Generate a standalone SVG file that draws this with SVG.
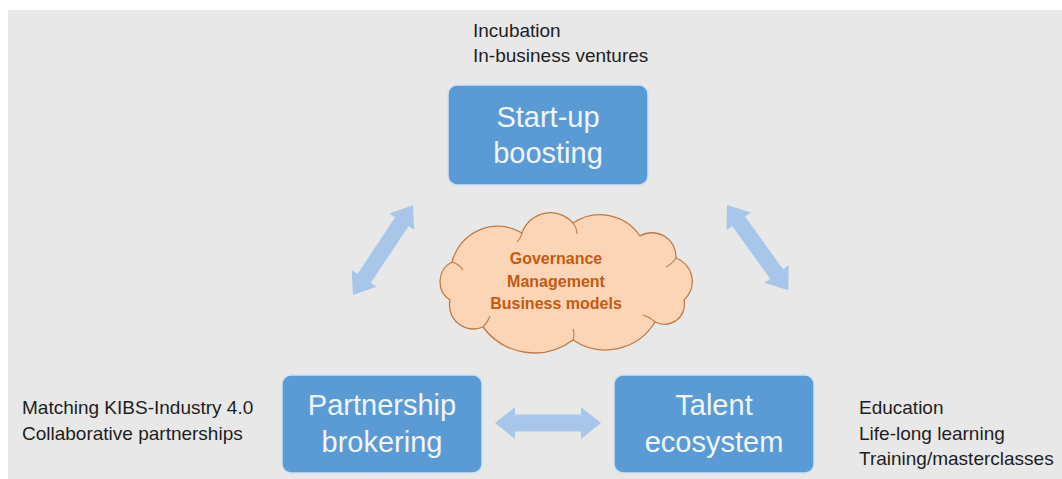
<svg xmlns="http://www.w3.org/2000/svg" width="1062" height="479" viewBox="0 0 1062 479">
  <defs>
    <style>
      .box { fill: #5b9bd5; stroke: #cfe0f2; stroke-width: 1.5; }
      .boxtxt { font-family: "Liberation Sans", Arial, sans-serif; font-size: 29px; fill: #f2f6fb; text-anchor: middle; }
      .side { font-family: "Liberation Sans", Arial, sans-serif; font-size: 19px; fill: #1e1e1e; }
      .cloud { fill: #fbd5b6; stroke: #c07a48; stroke-width: 1.3; }
      .cloudline { fill: none; stroke: #c07a48; stroke-width: 1.1; }
      .cloudtxt { font-family: "Liberation Sans", Arial, sans-serif; font-size: 16px; font-weight: bold; fill: #c55a11; text-anchor: middle; }
      .arrow { fill: #a8c6ea; }
    </style>
  </defs>
  <rect x="8" y="10" width="1054" height="469" fill="#e8e8e8"/>

  <g id="connectors">
    <!-- Start-up <-> Partnership -->
    <polygon class="arrow" transform="translate(353,295) rotate(-56.3)" points="0,0 20,-15 20,-8 88,-8 88,-15 108,0 88,15 88,8 20,8 20,15"/>
    <!-- Start-up <-> Talent -->
    <polygon class="arrow" transform="translate(727,205) rotate(54.3)" points="0,0 20,-15 20,-8 85,-8 85,-15 105,0 85,15 85,8 20,8 20,15"/>
    <!-- Partnership <-> Talent -->
    <polygon class="arrow" transform="translate(495,423)" points="0,0 20,-16 20,-8.5 86,-8.5 86,-16 106,0 86,16 86,8.5 20,8.5 20,16"/>
  </g>

  <g id="node-cloud">
    <path class="cloud" d="M452,262 A47,47 0 0 1 522,233 A30,30 0 0 1 573,223 A48,48 0 0 1 640,236 A24,24 0 0 1 676,258 A25,25 0 0 1 684,300 A20,20 0 0 1 655,322 A58,58 0 0 1 573,340 A64,64 0 0 1 483,327 A24,24 0 0 1 450,300 A22,22 0 0 1 452,262 Z"/>
    <path class="cloudline" d="M452,262 Q459,264 463,270"/>
    <path class="cloudline" d="M522,233 Q521,238 517,242"/>
    <path class="cloudline" d="M573,223 Q577,228 577,234"/>
    <path class="cloudline" d="M676,258 Q672,264 666,267"/>
    <path class="cloudline" d="M655,322 Q650,317 643,315"/>
    <path class="cloudline" d="M573,340 Q575,334 573,329"/>
    <path class="cloudline" d="M483,327 Q488,322 490,316"/>
    <text class="cloudtxt" x="556" y="264">Governance</text>
    <text class="cloudtxt" x="556" y="287">Management</text>
    <text class="cloudtxt" x="556" y="309">Business models</text>
  </g>

  <g id="node-startup">
    <rect class="box" x="448" y="85" width="200" height="100" rx="9"/>
    <text class="boxtxt" x="548" y="127">Start-up</text>
    <text class="boxtxt" x="548" y="163">boosting</text>
  </g>
  <g id="label-startup">
    <text class="side" x="473" y="37">Incubation</text>
    <text class="side" x="473" y="62">In-business ventures</text>
  </g>

  <g id="node-partnership">
    <rect class="box" x="282" y="375" width="200" height="98" rx="9"/>
    <text class="boxtxt" x="382" y="415">Partnership</text>
    <text class="boxtxt" x="382" y="452">brokering</text>
  </g>
  <g id="label-partnership">
    <text class="side" x="22" y="414">Matching KIBS-Industry 4.0</text>
    <text class="side" x="22" y="440">Collaborative partnerships</text>
  </g>

  <g id="node-talent">
    <rect class="box" x="614" y="375" width="200" height="98" rx="9"/>
    <text class="boxtxt" x="714" y="415">Talent</text>
    <text class="boxtxt" x="714" y="452">ecosystem</text>
  </g>
  <g id="label-talent">
    <text class="side" x="859" y="414">Education</text>
    <text class="side" x="859" y="440">Life-long learning</text>
    <text class="side" x="859" y="465">Training/masterclasses</text>
  </g>
</svg>
